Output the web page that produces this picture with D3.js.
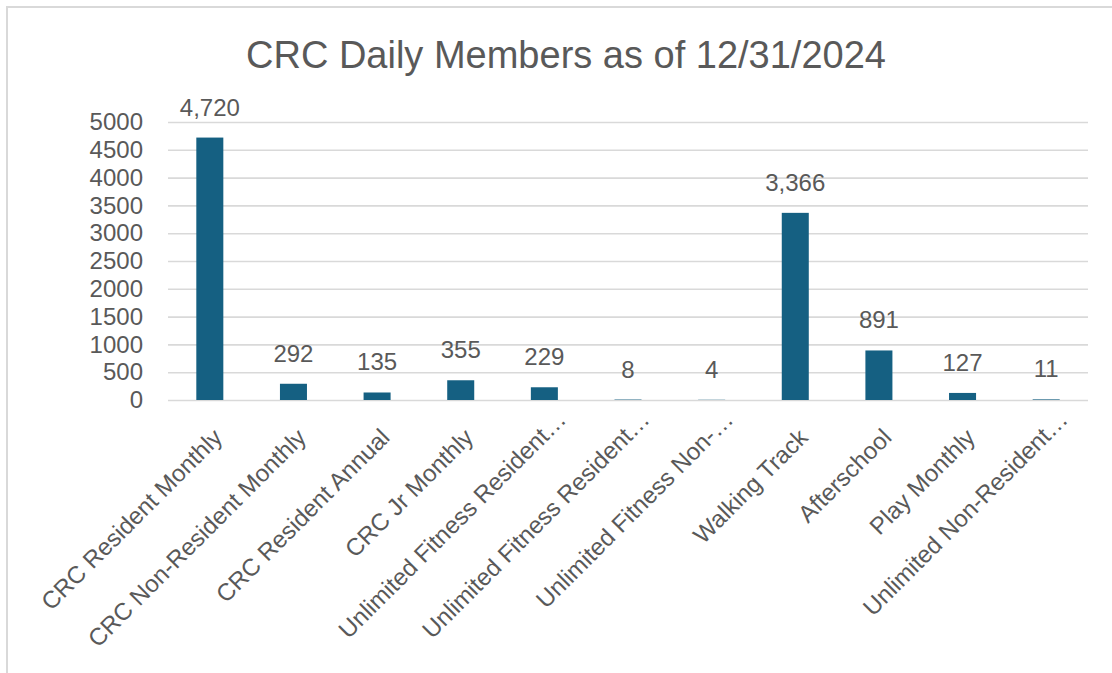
<!DOCTYPE html>
<html>
<head>
<meta charset="utf-8">
<script src="https://cdn.jsdelivr.net/npm/d3@7"></script>
<style>
  html, body { margin: 0; padding: 0; background: #ffffff; }
  svg { display: block; }
</style>
</head>
<body>
<svg id="chart" width="1112" height="673"></svg>
<script>
// Membership categories (as labelled on the axis) and member counts
const categories = [
  "CRC Resident Monthly",
  "CRC Non-Resident Monthly",
  "CRC Resident Annual",
  "CRC Jr Monthly",
  "Unlimited Fitness Resident…",
  "Unlimited Fitness Resident…",
  "Unlimited Fitness Non-…",
  "Walking Track",
  "Afterschool",
  "Play Monthly",
  "Unlimited Non-Resident…"
];
const members = [4720, 292, 135, 355, 229, 8, 4, 3366, 891, 127, 11];
const yTicks = [0, 500, 1000, 1500, 2000, 2500, 3000, 3500, 4000, 4500, 5000];
const chartTitle = "CRC Daily Members as of 12/31/2024";

const W = 1112, H = 673;
const plot = { left: 168, right: 1088, top: 122, bottom: 400 };
const textColor = "#595959";
const gridColor = "#d9d9d9";
const barColor = "#156082";
const font = "Liberation Sans, Arial, sans-serif";

const svg = d3.select("#chart");

// chart frame
svg.append("rect")
  .attr("x", 7).attr("y", 7)
  .attr("width", W + 10).attr("height", H + 10)
  .attr("fill", "#ffffff")
  .attr("stroke", gridColor)
  .attr("stroke-width", 2);

// title
svg.append("text")
  .attr("x", 566).attr("y", 68)
  .attr("text-anchor", "middle")
  .attr("font-family", font)
  .attr("font-size", 38)
  .attr("fill", textColor)
  .text(chartTitle);

const x = d3.scaleBand()
  .domain(d3.range(categories.length))
  .range([plot.left, plot.right])
  .paddingInner(0.677)
  .paddingOuter(0.3385);

const y = d3.scaleLinear()
  .domain([0, 5000])
  .range([plot.bottom, plot.top]);

// horizontal gridlines + value axis labels
const yAxis = d3.axisLeft(y)
  .tickValues(yTicks)
  .tickFormat(d3.format("d"))
  .tickSize(-(plot.right - plot.left))
  .tickPadding(25);

const gy = svg.append("g")
  .attr("transform", `translate(${plot.left},0)`)
  .call(yAxis);
gy.select(".domain").remove();
gy.selectAll(".tick line")
  .attr("stroke", gridColor)
  .attr("stroke-width", 1.6);
gy.selectAll(".tick text")
  .attr("fill", textColor)
  .attr("font-family", font)
  .attr("font-size", 24);

// bars
svg.append("g")
  .selectAll("rect")
  .data(members)
  .join("rect")
  .attr("x", (d, i) => x(i))
  .attr("width", x.bandwidth())
  .attr("y", d => y(d))
  .attr("height", d => y(0) - y(d))
  .attr("fill", barColor);

// value labels
svg.append("g")
  .selectAll("text")
  .data(members)
  .join("text")
  .attr("x", (d, i) => x(i) + x.bandwidth() / 2)
  .attr("y", d => y(d) - 22)
  .attr("text-anchor", "middle")
  .attr("font-family", font)
  .attr("font-size", 24)
  .attr("fill", textColor)
  .text(d => d3.format(",")(d));

// rotated category labels (truncated ones run a little further out)
const xAxis = d3.axisBottom(x)
  .tickFormat(i => categories[i])
  .tickSize(0)
  .tickPadding(0);

const gx = svg.append("g")
  .attr("transform", `translate(0,${plot.bottom})`)
  .call(xAxis);
gx.select(".domain").remove();
gx.selectAll(".tick text")
  .attr("fill", textColor)
  .attr("font-family", font)
  .attr("font-size", 24)
  .attr("text-anchor", "end")
  .attr("y", 0)
  .attr("dy", 0)
  .attr("transform", i => categories[i].endsWith("…")
    ? "translate(23,21) rotate(-45)"
    : "translate(14,39) rotate(-45)");
</script>
</body>
</html>
